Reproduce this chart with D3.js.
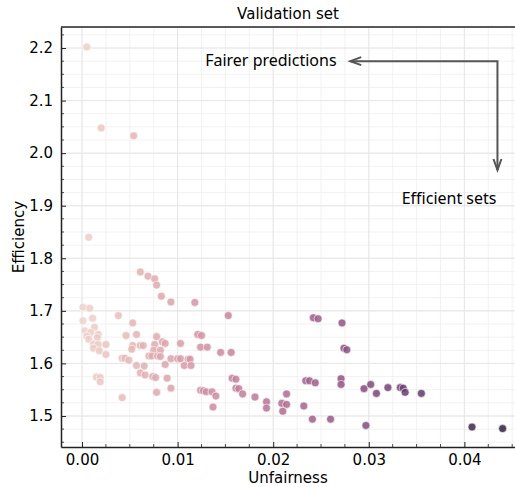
<!DOCTYPE html>
<html>
<head>
<meta charset="utf-8">
<script src="https://cdn.jsdelivr.net/npm/d3@7"></script>
<style>
  body { margin: 0; background: #fff; }
  text { font-family: "DejaVu Sans", sans-serif; fill: #000; }
  .note { font-family: "Noto Sans", sans-serif; }
</style>
</head>
<body>
<div id="chart"></div>
<script>
// unfairness (x) and efficiency (y) per candidate set
const unfairness = [
  0.0005, 0.0020, 0.0054, 0.0007, 0.0061, 0.0069, 0.0076, 0.0078, 0.0083, 0.0093,
  0.0118, 0.0001, 0.0008, 0.0038, 0.0153, 0.0011, 0.0001, 0.0053, 0.0013, 0.0003,
  0.0009, 0.0017, 0.0005, 0.0046, 0.0057, 0.0078, 0.0121, 0.0125, 0.0007, 0.0016,
  0.0012, 0.0017, 0.0025, 0.0053, 0.0061, 0.0064, 0.0076, 0.0084, 0.0087, 0.0103,
  0.0124, 0.0131, 0.0156, 0.0145, 0.0012, 0.0018, 0.0025, 0.0052, 0.0075, 0.0082,
  0.0070, 0.0073, 0.0079, 0.0082, 0.0042, 0.0045, 0.0049, 0.0093, 0.0100, 0.0103,
  0.0111, 0.0113, 0.0087, 0.0057, 0.0065, 0.0107, 0.0114, 0.0061, 0.0066, 0.0074,
  0.0077, 0.0089, 0.0015, 0.0019, 0.0019, 0.0157, 0.0161, 0.0124, 0.0127, 0.0130,
  0.0136, 0.0140, 0.0161, 0.0164, 0.0168, 0.0181, 0.0078, 0.0093, 0.0042, 0.0137,
  0.0242, 0.0247, 0.0272, 0.0274, 0.0277, 0.0193, 0.0193, 0.0209, 0.0214, 0.0214,
  0.0210, 0.0232, 0.0234, 0.0238, 0.0244, 0.0271, 0.0271, 0.0241, 0.0260, 0.0295,
  0.0302, 0.0308, 0.0320, 0.0333, 0.0336, 0.0338, 0.0355, 0.0297, 0.0408, 0.0440
];
const efficiency = [
  2.202, 2.048, 2.033, 1.840, 1.774, 1.766, 1.761, 1.749, 1.728, 1.717,
  1.716, 1.707, 1.705, 1.691, 1.691, 1.686, 1.681, 1.677, 1.669, 1.662,
  1.659, 1.655, 1.652, 1.653, 1.655, 1.651, 1.655, 1.653, 1.646, 1.649,
  1.637, 1.636, 1.636, 1.634, 1.634, 1.634, 1.636, 1.641, 1.638, 1.638,
  1.631, 1.631, 1.621, 1.621, 1.629, 1.624, 1.617, 1.627, 1.625, 1.625,
  1.614, 1.614, 1.614, 1.613, 1.610, 1.610, 1.606, 1.609, 1.609, 1.609,
  1.608, 1.608, 1.598, 1.596, 1.595, 1.596, 1.596, 1.582, 1.578, 1.575,
  1.573, 1.572, 1.574, 1.573, 1.565, 1.572, 1.570, 1.549, 1.548, 1.546,
  1.546, 1.538, 1.553, 1.552, 1.542, 1.536, 1.545, 1.553, 1.535, 1.517,
  1.687, 1.685, 1.677, 1.629, 1.626, 1.527, 1.515, 1.524, 1.522, 1.542,
  1.509, 1.519, 1.567, 1.567, 1.563, 1.571, 1.560, 1.494, 1.494, 1.552,
  1.560, 1.543, 1.554, 1.554, 1.553, 1.545, 1.543, 1.482, 1.479, 1.476
];
const xTicks = [0, 0.01, 0.02, 0.03, 0.04];
const yTicks = [1.5, 1.6, 1.7, 1.8, 1.9, 2.0, 2.1, 2.2];

const points = unfairness.map((u, i) => ({ u: u, e: efficiency[i] }));

const width = 515;
const height = 487;
const margin = { top: 27, right: -1, bottom: 40, left: 61 };

const svg = d3.select("#chart").append("svg").attr("width", width).attr("height", height);

const xScale = d3.scaleLinear().domain([-0.0022, 0.0454]).range([margin.left, width - margin.right]);
const yScale = d3.scaleLinear().domain([1.441, 2.240]).range([height - margin.bottom, margin.top]);

// seaborn's default cubehelix palette, light -> dark
function cubehelix(t) {
  const l = 0.85 - 0.7 * t;
  const phi = 2 * Math.PI * (0.4 * l);
  const amp = 0.8 * l * (1 - l) / 2;
  const c = Math.cos(phi), s = Math.sin(phi);
  const r = l + amp * (-0.14861 * c + 1.78277 * s);
  const g = l + amp * (-0.29227 * c - 0.90649 * s);
  const b = l + amp * (1.97294 * c);
  return d3.rgb(r * 255, g * 255, b * 255).toString();
}
const colorNorm = d3.scaleLinear().domain(d3.extent(unfairness)).range([0, 1]);

const plot = svg.append("g");
plot.append("clipPath").attr("id", "clip").append("rect")
  .attr("x", margin.left).attr("y", margin.top)
  .attr("width", width - margin.left).attr("height", height - margin.bottom - margin.top);

// grid, minor then major
const xMinor = d3.range(-0.0, 0.0455, 0.0025);
const yMinor = d3.range(1.45, 2.24, 0.025);
plot.append("g").selectAll("line").data(xMinor).enter().append("line")
  .attr("x1", d => xScale(d)).attr("x2", d => xScale(d))
  .attr("y1", margin.top).attr("y2", height - margin.bottom)
  .attr("stroke", "#efefef").attr("stroke-width", 0.8);
plot.append("g").selectAll("line").data(yMinor).enter().append("line")
  .attr("x1", margin.left).attr("x2", width)
  .attr("y1", d => yScale(d)).attr("y2", d => yScale(d))
  .attr("stroke", "#efefef").attr("stroke-width", 0.8);
plot.append("g").selectAll("line").data(xTicks).enter().append("line")
  .attr("x1", d => xScale(d)).attr("x2", d => xScale(d))
  .attr("y1", margin.top).attr("y2", height - margin.bottom)
  .attr("stroke", "#e6e6e6").attr("stroke-width", 1);
plot.append("g").selectAll("line").data(yTicks).enter().append("line")
  .attr("x1", margin.left).attr("x2", width)
  .attr("y1", d => yScale(d)).attr("y2", d => yScale(d))
  .attr("stroke", "#e6e6e6").attr("stroke-width", 1);

// points
plot.append("g").attr("clip-path", "url(#clip)")
  .selectAll("circle").data(points).enter().append("circle")
  .attr("cx", d => xScale(d.u)).attr("cy", d => yScale(d.e)).attr("r", 4)
  .attr("fill", d => cubehelix(colorNorm(d.u)))
  .attr("fill-opacity", 0.85)
  .attr("stroke", "#fff").attr("stroke-width", 0.6);

// axes with inward ticks
const xAxis = d3.axisBottom(xScale).tickValues(xTicks).tickFormat(d3.format(".2f")).tickSizeInner(-5).tickSizeOuter(0).tickPadding(7);
const yAxis = d3.axisLeft(yScale).tickValues(yTicks).tickFormat(d3.format(".1f")).tickSizeInner(-5).tickSizeOuter(0).tickPadding(8);

const gx = svg.append("g").attr("transform", `translate(0, ${height - margin.bottom})`).call(xAxis);
const gy = svg.append("g").attr("transform", `translate(${margin.left}, 0)`).call(yAxis);
[gx, gy].forEach(g => {
  g.select(".domain").attr("stroke", "#222").attr("stroke-width", 1.5);
  g.selectAll(".tick line").attr("stroke", "#222").attr("stroke-width", 1);
  g.selectAll(".tick text").attr("font-size", 15).attr("fill", "#111").attr("font-family", "DejaVu Sans");
});

// minor ticks
svg.append("g").selectAll("line").data(xMinor.filter(d => !xTicks.some(t => Math.abs(t - d) < 1e-9))).enter().append("line")
  .attr("x1", d => xScale(d)).attr("x2", d => xScale(d))
  .attr("y1", height - margin.bottom).attr("y2", height - margin.bottom - 3)
  .attr("stroke", "#222").attr("stroke-width", 0.8);
svg.append("g").selectAll("line").data(yMinor.filter(d => !yTicks.some(t => Math.abs(t - d) < 1e-9))).enter().append("line")
  .attr("x1", margin.left).attr("x2", margin.left + 3)
  .attr("y1", d => yScale(d)).attr("y2", d => yScale(d))
  .attr("stroke", "#222").attr("stroke-width", 0.8);

// top spine
svg.append("line").attr("x1", margin.left).attr("x2", width).attr("y1", margin.top).attr("y2", margin.top)
  .attr("stroke", "#222").attr("stroke-width", 1.5);

// titles
svg.append("text").attr("x", (margin.left + width) / 2).attr("y", 19).attr("text-anchor", "middle")
  .attr("font-size", 15).text("Validation set");
svg.append("text").attr("x", (margin.left + width) / 2).attr("y", 483).attr("text-anchor", "middle")
  .attr("font-size", 15).text("Unfairness");
svg.append("text").attr("transform", "rotate(-90)").attr("x", -237).attr("y", 24).attr("text-anchor", "middle")
  .attr("font-size", 15).text("Efficiency");

// annotation arrows
const corner = { u: 0.04346, e: 2.175 };
const leftTip = 0.02806;
const bottomTip = 1.968;
const cx = xScale(corner.u), cy = yScale(corner.e);
const lx = xScale(leftTip), by = yScale(bottomTip);
const note = svg.append("g");
note.append("path").attr("d", `M${lx},${cy}H${cx}V${by}`)
  .attr("fill", "none").attr("stroke", "#555").attr("stroke-width", 2);
note.append("path").attr("d", `M${lx + 11},${cy - 4}L${lx},${cy}L${lx + 11},${cy + 4}`)
  .attr("fill", "none").attr("stroke", "#555").attr("stroke-width", 2).attr("stroke-linejoin", "miter");
note.append("path").attr("d", `M${cx - 4},${by - 11}L${cx},${by}L${cx + 4},${by - 11}`)
  .attr("fill", "none").attr("stroke", "#555").attr("stroke-width", 2).attr("stroke-linejoin", "miter");

note.append("text").attr("class", "note").attr("x", xScale(0.01288)).attr("y", yScale(2.175) + 5)
  .attr("font-size", 16).text("Fairer predictions");
note.append("text").attr("class", "note").attr("x", xScale(0.04336)).attr("y", yScale(1.913) + 5)
  .attr("text-anchor", "end").attr("font-size", 16).text("Efficient sets");
</script>
</body>
</html>
